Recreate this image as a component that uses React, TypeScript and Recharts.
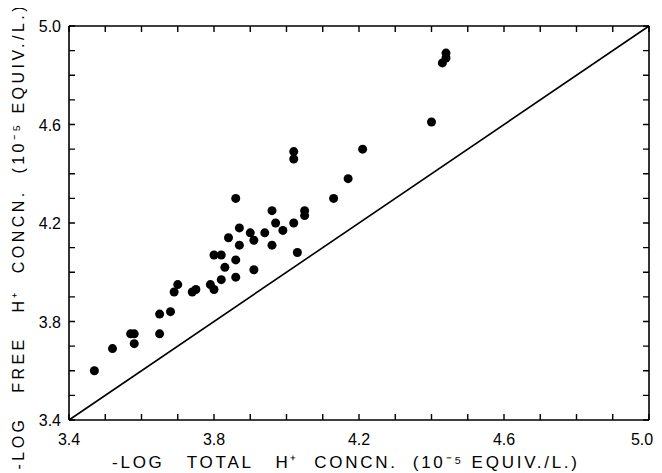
import React from 'react';
import { ScatterChart, Scatter, XAxis, YAxis, ReferenceLine } from 'recharts';

// -log total H+ concn. (x) vs -log free H+ concn. (y)
const totalLog = [
  3.47, 3.52, 3.57, 3.58, 3.58, 3.65, 3.65, 3.68, 3.69, 3.70,
  3.74, 3.75, 3.79, 3.80, 3.80, 3.82, 3.83, 3.82, 3.86, 3.86,
  3.84, 3.86, 3.87, 3.87, 3.90, 3.91, 3.91, 3.94, 3.96, 3.96,
  3.97, 3.99, 4.02, 4.02, 4.02, 4.03, 4.05, 4.05, 4.13, 4.17,
  4.21, 4.40, 4.43, 4.44, 4.44,
];
const freeLog = [
  3.60, 3.69, 3.75, 3.75, 3.71, 3.75, 3.83, 3.84, 3.92, 3.95,
  3.92, 3.93, 3.95, 3.93, 4.07, 4.07, 4.02, 3.97, 4.05, 3.98,
  4.14, 4.30, 4.18, 4.11, 4.16, 4.13, 4.01, 4.16, 4.25, 4.11,
  4.20, 4.17, 4.20, 4.49, 4.46, 4.08, 4.25, 4.23, 4.30, 4.38,
  4.50, 4.61, 4.85, 4.87, 4.89,
];

const tickValues = [3.4, 3.5, 3.6, 3.7, 3.8, 3.9, 4.0, 4.1, 4.2, 4.3, 4.4, 4.5, 4.6, 4.7, 4.8, 4.9, 5.0];
const tickLabels = ['3.4', '3.8', '4.2', '4.6', '5.0'];

const xTitle = '-LOG   TOTAL   H⁺  CONCN.  (10⁻⁵ EQUIV./L.)';
const yTitle = '-LOG   FREE   H⁺  CONCN.  (10⁻⁵ EQUIV./L.)';

const points = totalLog.map((x, i) => ({ x, y: freeLog[i] }));

const FONT = '"Liberation Sans", Arial, sans-serif';
const TICK_LEN = 6;
const INK = '#000';

const labelFor = (v: number) => tickLabels.find((l) => Math.abs(parseFloat(l) - v) < 1e-6);

// axes only carry the numbers; tick marks are drawn on the frame below
const BottomLabel = (props: any) => {
  const label = labelFor(props.payload.value);
  if (!label) return <g />;
  const x = Number(props.x) - (label === '5.0' ? 7 : 0);
  return (
    <text x={x} y={Number(props.y) + 25} textAnchor="middle" fill={INK} fontSize={16} fontFamily={FONT}>
      {label}
    </text>
  );
};

const LeftLabel = (props: any) => {
  const label = labelFor(props.payload.value);
  if (!label) return <g />;
  return (
    <text x={Number(props.x) - 8} y={Number(props.y) + 6} textAnchor="end" fill={INK} fontSize={16} fontFamily={FONT}>
      {label}
    </text>
  );
};

// inward ticks at both ends of a vertical grid position (bottom + top edge)
const VTicks = (p: any) => {
  const top = Math.min(p.y1, p.y2);
  const bottom = Math.max(p.y1, p.y2);
  return (
    <path
      d={`M${p.x1},${bottom}v${-TICK_LEN}M${p.x1},${top}v${TICK_LEN}`}
      stroke={INK}
      strokeWidth={1.4}
      fill="none"
    />
  );
};

// inward ticks at both ends of a horizontal grid position (left + right edge)
const HTicks = (p: any) => {
  const left = Math.min(p.x1, p.x2);
  const right = Math.max(p.x1, p.x2);
  return (
    <path
      d={`M${left},${p.y1}h${TICK_LEN}M${right},${p.y1}h${-TICK_LEN}`}
      stroke={INK}
      strokeWidth={1.4}
      fill="none"
    />
  );
};

const XTitle = ({ viewBox }: any) => (
  <text
    x={viewBox.x + 43}
    y={viewBox.y + 48}
    fontSize={17}
    fontFamily={FONT}
    fill={INK}
    textLength={465}
    lengthAdjust="spacing"
    style={{ whiteSpace: 'pre' }}
  >
    {xTitle}
  </text>
);

const YTitle = ({ viewBox }: any) => {
  const cx = 16;
  const cy = viewBox.y + viewBox.height / 2 + 15;
  return (
    <text
      x={cx}
      y={cy}
      transform={`rotate(-90 ${cx} ${cy})`}
      textAnchor="middle"
      fontSize={16}
      fontFamily={FONT}
      fill={INK}
      textLength={463}
      lengthAdjust="spacing"
      style={{ whiteSpace: 'pre' }}
    >
      {yTitle}
    </text>
  );
};

const Dot = (props: any) => <circle cx={props.cx} cy={props.cy} r={4.5} fill={INK} />;

export default function App() {
  return (
    <div style={{ width: 654, height: 465, background: '#fff' }}>
      <ScatterChart
        width={654}
        height={465}
        margin={{ top: 18, right: 13, bottom: 0, left: 5 }}
        style={{ overflow: 'visible' }}
      >
        <XAxis
          type="number"
          dataKey="x"
          domain={[3.4, 5.0]}
          ticks={tickValues}
          allowDataOverflow
          height={53}
          tickSize={0}
          tickMargin={0}
          tickLine={false}
          axisLine={false}
          tick={BottomLabel}
          interval={0}
          label={{ content: XTitle }}
        />
        <YAxis
          type="number"
          dataKey="y"
          domain={[3.4, 5.0]}
          ticks={tickValues}
          allowDataOverflow
          width={56}
          tickSize={0}
          tickMargin={0}
          tickLine={false}
          axisLine={false}
          tick={LeftLabel}
          interval={0}
          label={{ content: YTitle }}
        />
        {/* frame */}
        <ReferenceLine x={3.4} stroke={INK} strokeWidth={1.6} />
        <ReferenceLine x={5.0} stroke={INK} strokeWidth={1.6} />
        <ReferenceLine y={3.4} stroke={INK} strokeWidth={1.6} />
        <ReferenceLine y={5.0} stroke={INK} strokeWidth={1.6} />
        {tickValues.map((v) => (
          <ReferenceLine key={`vx${v}`} x={v} shape={VTicks} />
        ))}
        {tickValues.map((v) => (
          <ReferenceLine key={`hy${v}`} y={v} shape={HTicks} />
        ))}
        <ReferenceLine
          segment={[
            { x: 3.4, y: 3.4 },
            { x: 5.0, y: 5.0 },
          ]}
          stroke={INK}
          strokeWidth={1.6}
        />
        <Scatter data={points} shape={Dot} isAnimationActive={false} />
      </ScatterChart>
    </div>
  );
}
